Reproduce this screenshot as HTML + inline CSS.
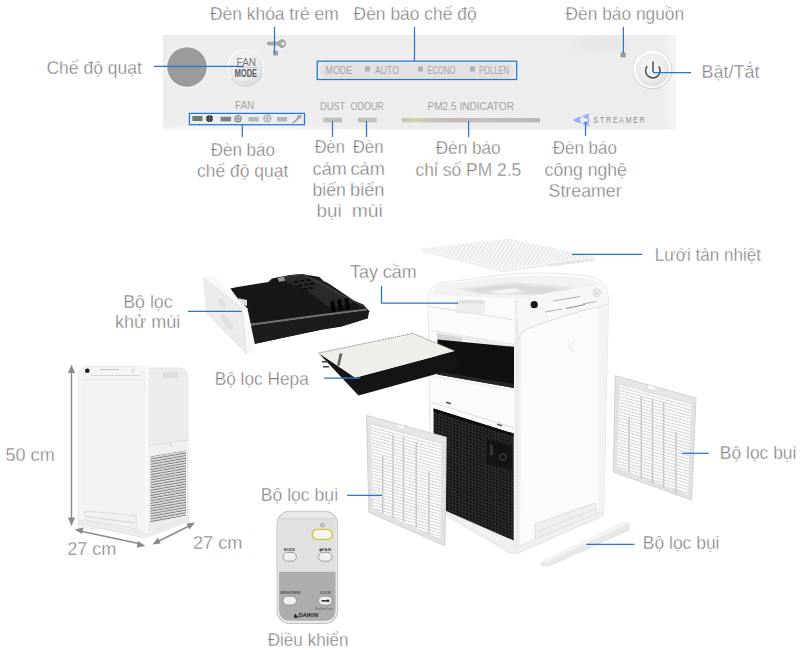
<!DOCTYPE html>
<html><head><meta charset="utf-8"><style>
html,body{margin:0;padding:0;background:#fff;}
body{width:800px;height:650px;overflow:hidden;}
svg{display:block;}
.lbl text{font-family:"Liberation Sans",sans-serif;font-size:18.5px;fill:#7d7d7d;stroke:#fff;stroke-width:0.35px;}
.ln{stroke:#2574d8;stroke-width:1.25;fill:none;}
.sm{font-family:"Liberation Sans",sans-serif;}
</style></head><body>
<svg width="800" height="650" viewBox="0 0 800 650">
<defs>
 <clipPath id="panelClip"><rect x="163" y="35" width="513" height="94.5"/></clipPath>
 <filter id="blur4" x="-50%" y="-50%" width="200%" height="200%"><feGaussianBlur stdDeviation="4"/></filter>
 <radialGradient id="hlG" cx="0.35" cy="1" r="0.75" gradientTransform="translate(0.35 1) scale(1 0.25) translate(-0.35 -1)">
  <stop offset="0" stop-color="#f8f8f8" stop-opacity="1"/><stop offset="1" stop-color="#f8f8f8" stop-opacity="0"/>
 </radialGradient>
 <radialGradient id="btnG" cx="0.45" cy="0.4" r="0.6">
  <stop offset="0" stop-color="#f7f7f7"/><stop offset="0.7" stop-color="#ececec"/><stop offset="1" stop-color="#dcdcdc"/>
 </radialGradient>
 <linearGradient id="pmG" x1="0" x2="1">
  <stop offset="0" stop-color="#c2c2b8"/><stop offset="0.08" stop-color="#d4d3b0"/><stop offset="0.25" stop-color="#c6bfb8"/>
  <stop offset="0.42" stop-color="#c8b8b6"/><stop offset="0.6" stop-color="#bfbfc4"/><stop offset="1" stop-color="#b8b8bc"/>
 </linearGradient>
 <pattern id="grillP" width="3.3" height="3.3" patternUnits="userSpaceOnUse" patternTransform="skewY(17)">
  <rect width="3.3" height="3.3" fill="#2e2e2e"/><rect x="0.9" y="0.9" width="2.1" height="2.1" fill="#0f0f0f"/>
 </pattern>
 <pattern id="meshP" width="3.3" height="3.3" patternUnits="userSpaceOnUse" patternTransform="rotate(32)">
  <rect width="3.3" height="3.3" fill="#f9f9f9"/><rect x="0" y="0" width="1.4" height="3.3" fill="#e6e6e6"/>
 </pattern>
 <pattern id="slatP" width="4" height="3.1" patternUnits="userSpaceOnUse" patternTransform="skewY(15.4)">
  <rect width="4" height="3.1" fill="#fdfdfd"/><rect y="2.1" width="4" height="1" fill="#d3d3d3"/>
 </pattern>
 <pattern id="sgrillP" width="3" height="2.6" patternUnits="userSpaceOnUse" patternTransform="skewY(-10)">
  <rect width="3" height="2.6" fill="#e6e6e6"/><rect y="1.5" width="3" height="1.1" fill="#7c7c7c"/>
 </pattern>
</defs>

<!-- ===== TOP CONTROL PANEL ===== -->
<g id="panel">
 <rect x="163" y="35" width="513" height="94.5" fill="#eeeded"/>
 <rect x="163" y="95" width="200" height="34.5" fill="url(#hlG)"/>
 <g clip-path="url(#panelClip)">
  <ellipse cx="598" cy="44" rx="26" ry="6" fill="#e2e2e2" opacity="0.7" filter="url(#blur4)"/>
  <rect x="668" y="35" width="10" height="95" fill="#f6f6f6" filter="url(#blur4)"/>
 </g>
 <!-- gray circle -->
 <circle cx="187" cy="67" r="20.8" fill="#f8f8f8"/>
 <circle cx="187" cy="67" r="19.8" fill="#9c999b"/>
 <!-- FAN MODE button -->
 <circle cx="245.8" cy="67.7" r="18.4" fill="#fcfcfc"/>
 <circle cx="245.8" cy="67.7" r="17.2" fill="url(#btnG)"/>
 <path d="M231.5,78.5 A17.3,17.3 0 0 0 262.5,73" stroke="#bccbdc" stroke-width="1.1" fill="none"/>
 <text class="sm" x="236.6" y="65.8" font-size="10.2" fill="#777" textLength="19.4" lengthAdjust="spacingAndGlyphs">FAN</text>
 <line x1="237" y1="67.4" x2="257" y2="67.4" stroke="#9a9a9a" stroke-width="0.6"/>
 <text class="sm" x="234.8" y="77" font-size="10.6" font-weight="bold" fill="#555" textLength="22.2" lengthAdjust="spacingAndGlyphs">MODE</text>
 <!-- child lock key -->
 <g stroke="#fafafa" stroke-width="1.6" fill="#fafafa"><circle cx="282" cy="43.6" r="4.3"/><rect x="266.8" y="41.6" width="13" height="4" rx="2"/></g>
 <circle cx="282" cy="43.6" r="4.3" fill="#a6a6a6"/>
 <rect x="266.8" y="41.6" width="13" height="4" rx="2" fill="#a6a6a6"/>
 <circle cx="283" cy="43.6" r="1.7" fill="#f0f0f0"/>
 <rect x="273.2" y="50.8" width="4.8" height="4.8" fill="#a2a2a6"/>
 <!-- mode pill -->
 <rect x="319.5" y="63" width="195" height="15" rx="7.5" fill="#e2e2e2"/>
 <g class="sm" font-size="10.6" fill="#a4a4a4">
  <text x="325.6" y="73.6" textLength="26.4" lengthAdjust="spacingAndGlyphs">MODE</text>
  <rect x="365" y="66.5" width="5" height="5" fill="#aab0b8"/>
  <text x="375" y="73.6" textLength="24" lengthAdjust="spacingAndGlyphs">AUTO</text>
  <rect x="418" y="66.5" width="5" height="5" fill="#aab0b8"/>
  <text x="427.5" y="73.6" textLength="28" lengthAdjust="spacingAndGlyphs">ECONO</text>
  <rect x="470" y="66.5" width="5" height="5" fill="#aab0b8"/>
  <text x="479" y="73.6" textLength="30" lengthAdjust="spacingAndGlyphs">POLLEN</text>
 </g>
 <!-- power indicator + button -->
 <rect x="620.5" y="52.5" width="5.2" height="4.8" fill="#9a9a9e"/>
 <circle cx="652.5" cy="69.6" r="19.8" fill="#d6d6d6"/>
 <circle cx="652.3" cy="69.3" r="19" fill="#fbfbfb"/>
 <circle cx="652.5" cy="69.8" r="16.5" fill="url(#btnG)"/>
 <path d="M647.2,66.2 A7.2,7.2 0 1 0 658.6,66.4" stroke="#4a4a4a" stroke-width="1.5" fill="none"/>
 <line x1="653" y1="61.5" x2="653" y2="72" stroke="#4a4a4a" stroke-width="1.5"/>
 <!-- FAN row -->
 <text class="sm" x="235" y="108.8" font-size="10.2" fill="#a2a2a2" textLength="19.2" lengthAdjust="spacingAndGlyphs">FAN</text>
 <rect x="192.3" y="116" width="10.2" height="5" fill="#6d7c6e"/>
 <g transform="translate(209.5 118.6)"><circle r="3.4" fill="#262626"/><path d="M-3,0 H3 M0,-3 V3" stroke="#cfcfcf" stroke-width="0.7"/><circle r="0.9" fill="#262626"/></g>
 <rect x="220.5" y="116.8" width="10.5" height="4.6" fill="#7d8389"/>
 <g transform="translate(238 118.8)"><circle r="3.3" fill="#dcdcdc" stroke="#6a6a6a" stroke-width="0.9"/><path d="M-2.6,0 H2.6 M0,-2.6 V2.6" stroke="#6a6a6a" stroke-width="0.7"/></g>
 <rect x="248.6" y="117" width="10" height="4.4" fill="#b2b5ba"/>
 <g transform="translate(267.3 118.3)"><circle r="3.6" fill="#e4e4e4" stroke="#9c9c9c" stroke-width="0.9"/><path d="M-2.8,0 H2.8 M0,-2.8 V2.8" stroke="#9c9c9c" stroke-width="0.7"/></g>
 <rect x="277" y="117" width="10" height="4.4" fill="#b2b5ba"/>
 <path d="M292,122.5 Q296,120 298,116.5 L296.5,116 L301.5,114.5 L301,119 L299.5,118 Q297.5,121.5 293,123.5 Z" fill="#a5a5a5"/>
 <!-- DUST / ODOUR -->
 <g class="sm" font-size="10.1" fill="#a2a2a2">
  <text x="320" y="109.6" textLength="25" lengthAdjust="spacingAndGlyphs">DUST</text>
  <text x="350.6" y="109.6" textLength="33.2" lengthAdjust="spacingAndGlyphs">ODOUR</text>
  <text x="427.4" y="110.2" textLength="86.6" lengthAdjust="spacingAndGlyphs">PM2.5  INDICATOR</text>
 </g>
 <rect x="323.5" y="117.7" width="18.5" height="4.6" fill="#bcbfb8"/>
 <rect x="358" y="117.7" width="18.6" height="4.6" fill="#bcbfb8"/>
 <rect x="402" y="118" width="138" height="4.4" fill="url(#pmG)"/>
 <!-- streamer -->
 <g fill="#a3abf4">
  <path d="M581.8,116.6 Q576,117.2 573,120 Q576,122.8 581.8,123.4 Q578.2,120 581.8,116.6 Z"/>
  <path d="M590,113.4 Q584.5,114.2 582.2,116.6 Q585.5,118.6 590,120.3 Q587,117 590,113.4 Z"/>
  <path d="M590,120.3 Q584.5,121 582.4,123.4 Q585.5,125.4 590,126.3 Q587.2,123.6 590,120.3 Z"/>
 </g>
 <text class="sm" x="593.6" y="123.3" font-size="9.4" fill="#8a8a8a" letter-spacing="2.6" textLength="53" lengthAdjust="spacingAndGlyphs">STREAMER</text>
</g>


<!-- ===== PRODUCTS ===== -->
<!-- heat sink mesh -->
<g id="mesh">
 <polygon points="421,248.8 508.8,238.6 595.5,256.8 502.5,268.8" fill="url(#meshP)"/>
 <polygon points="421,248.8 502.5,268.8 595.5,256.8 596,259.5 503,271.5 421.5,250.5" fill="#f4f4f4"/>
 <polyline points="422,251 503,271.5 596,259.5" fill="none" stroke="#e2e2e2" stroke-width="0.8"/>
 <polygon points="548,264 592,258.5 593,261 550,266.5" fill="#e6e6e6"/>
</g>

<!-- main unit -->
<g id="main">
 <path d="M428,302 C428,291 432,285 441,283 L508,274 C540,272 575,273 592,277 C603,280 608,288 608.5,299 L604,512 C603,516 600,518 596,519 L520,552 C515,554 510,554 506,551 L446,516 L430,440 Z" fill="#fbfbfb" stroke="#e2e2e2" stroke-width="0.8"/>
 <!-- top surface / opening -->
 <path d="M434,292 C436,287 439,285 444,284 L508,276.5 C540,275 575,276 590,279 C597,281 599,284 600,287 L520,299 L431,295 Z" fill="#f2f2f2"/>
 <polygon points="459,288.5 513,282 574,287.4 552,296 478,294" fill="#e4e4e4"/>
 <polygon points="468,289.5 513,284.5 560,288.5 546,294 482,292.5" fill="#dadada"/>
 <polygon points="490,291 515,288 525,292 500,294" fill="#f2f2f2"/>
 <!-- front face seams and handle -->
 <rect x="455.6" y="299.4" width="29.6" height="14.4" rx="3" fill="#efefef"/>
 <path d="M457,301 Q470,299.6 484,301 L484,304 Q470,302.5 457,304 Z" fill="#dfdfdf"/>
 <line x1="428.5" y1="306.2" x2="514" y2="320" stroke="#e0e0e0" stroke-width="1"/>
 <line x1="429" y1="330" x2="514" y2="344.5" stroke="#e3e3e3" stroke-width="1"/>
 <!-- inner top of opening -->
 <polygon points="436,331.5 514,345 514,348 436,336" fill="#ececec"/>
 <polygon points="437,333.5 462,337.5 462,343 437,340" fill="#d6d6d6"/>
 <!-- black opening -->
 <polygon points="437.5,339.5 514,346.8 514,388 437.5,374.5" fill="#101010"/>
 <polygon points="440,372 514,384 514,388 437.5,374.5" fill="#262626"/>
 <!-- lower front white part -->
 <line x1="430" y1="376" x2="514" y2="390" stroke="#e6e6e6" stroke-width="0.8"/>
 <line x1="431" y1="402" x2="514" y2="428" stroke="#dedede" stroke-width="1"/>
 <rect x="446" y="402" width="5" height="1.6" fill="#555" transform="rotate(17 448 403)"/>
 <rect x="497" y="424" width="5" height="1.6" fill="#555" transform="rotate(17 499 425)"/>
 <!-- black grill -->
 <polygon points="433.6,408.5 513.7,433.6 513.7,540.5 446,511 446,437 433.6,437" fill="url(#grillP)"/>
 <polygon points="433.6,408.5 513.7,433.6 513.7,436.5 433.6,411.5" fill="#0e0e0e"/>
 <polygon points="486,439 512,446 512,470 486,463" fill="#141414"/>
 <polygon points="490,444 493,445 493,456 490,455" fill="#333"/>
 <circle cx="503" cy="457" r="3.3" fill="none" stroke="#4a4a4a" stroke-width="1"/>
 <!-- side face -->
 <path d="M514.5,300 L514.5,546 L520,551 L521,300 Z" fill="#f0f0f0"/>
 <line x1="516.8" y1="300" x2="516.8" y2="548" stroke="#e2e2e2" stroke-width="0.8"/>
 <path d="M598,300 L607.5,300 L604,512 L598,515 Z" fill="#f3f3f3"/>
 <!-- side control strip -->
 <path d="M517,303 C520,299 525,297 530,296 C555,292 580,288 598,285 C604,287 607,293 607.5,302 L607.5,305 C580,311 550,320 527,329 C522,331 519,334 519,340 Z" fill="#f7f7f7"/>
 <path d="M519,340 C519,334 522,331 527,329 C550,320 580,311 607.5,304.5" fill="none" stroke="#e0e0e0" stroke-width="1.2"/>
 <circle cx="534.2" cy="304.7" r="3.6" fill="#1a1a1a"/>
 <circle cx="596.7" cy="292.7" r="3.8" fill="none" stroke="#c8c8c8" stroke-width="0.8"/><circle cx="596.7" cy="292.7" r="1.5" fill="none" stroke="#aaa" stroke-width="0.6"/>
 <g stroke="#9a9a9a" stroke-width="0.8">
  <line x1="553" y1="301" x2="580" y2="296.5"/>
  <line x1="545" y1="312" x2="556" y2="310"/>
  <line x1="557" y1="310" x2="562" y2="309"/>
  <line x1="583" y1="304" x2="596" y2="301.5"/>
 </g>
 <line x1="566" y1="308.5" x2="585" y2="304.5" stroke="#7f8aa0" stroke-width="1"/>
 <path d="M567,347 L573,341 L575,343 L571,347 L575,351 L573,353 Z" fill="#f2f2f2"/>
 <!-- side lower slot -->
 <polygon points="535,524 595,503 597,515 535,538.6" fill="#efefef" stroke="#d8d8d8" stroke-width="0.8"/>
 <line x1="536" y1="532" x2="596" y2="509" stroke="#dadada" stroke-width="0.8"/>
 <!-- base plate -->
 <polygon points="446,511.5 514.3,542 515.5,547.6 602,511.5 603.5,515 516.6,553.9 509.8,552 445.6,514" fill="#f0f0f0" stroke="#dcdcdc" stroke-width="0.6"/>
</g>

<!-- prefilter strip -->
<polygon points="542.5,561.2 623.7,522.5 629.5,524.5 629,530 548.7,566.2 541.2,565.5" fill="#e9e9e9" stroke="#d6d6d6" stroke-width="0.6"/>
<polygon points="542.5,561.2 623.7,522.5 627,524 544,563" fill="#f7f7f7"/>

<!-- carbon tray -->
<g id="tray">
 <polygon points="230.4,288.5 236,287.3 268.4,281.9 272,278.5 279,277.1 284,276.2 290,275 301.7,273.9 319.5,277.1 323.2,280.8 329,283.7 353.9,300.6 363.4,304.5 369.2,311 367.8,318.2 340.5,326.8 323.2,328.2 317.5,330.4 307.4,332.5 249.4,345 247,311" fill="#171717"/>
 <polygon points="280,278 302,274.5 322,281 352,301.5 351,304 330,308 305,289 283,281" fill="#2a2a2a"/>
 <polyline points="284.6,276.6 303,274.3 362.8,306 369.7,311.7" fill="none" stroke="#474747" stroke-width="1"/>
 <g fill="#0a0a0a">
  <polygon points="293,281.5 297,280.8 299.5,282.5 295.5,283.2"/>
  <polygon points="299,280.4 303,279.7 305.5,281.4 301.5,282.1"/>
  <polygon points="305,279.6 309,279 311.5,280.6 307.5,281.3"/>
  <polygon points="297,285 301,284.3 303.5,286 299.5,286.7"/>
  <polygon points="303,284 307,283.3 309.5,285 305.5,285.7"/>
  <polygon points="309,283.2 313,282.5 315.5,284.2 311.5,284.9"/>
  <polygon points="302,288.5 306,287.8 308.5,289.5 304.5,290.2"/>
  <polygon points="308,287.6 312,286.9 314.5,288.6 310.5,289.3"/>
 </g>
 <g fill="#050505">
  <polygon points="330,302 334,300.5 336,312 332,313"/>
  <polygon points="337,300 341,298.8 343,310 339,311"/>
  <polygon points="344,298.5 348,297.5 350,308.5 346,309.5"/>
 </g>
 <polygon points="249,323.8 318,314.5 367,308.5 367,310.5 318,316.8 249,326.3" fill="#707070"/>
 <polygon points="249,326.3 318,316.8 367.8,310.5 367.8,318.2 340.5,326.8 317.5,330.4 249.4,345" fill="#1c1c1c"/>
 <polygon points="238.5,298.3 247,300 247,306 239,304" fill="#dcdcdc"/>
 <polygon points="277.5,278 284,276.8 285,280.8 279,281.8" fill="#9a9a9a"/>
 <polygon points="203,278 214,275 247.5,308.5 256,350 250,355 246.5,354.5 205.8,313" fill="#f9f9f9"/>
 <polygon points="203,277.5 242,308 246.5,354.5 205.8,313" fill="#ececec"/>
 <polyline points="203,277.5 242,308 246.5,354.5" fill="none" stroke="#dddddd" stroke-width="0.8"/>
 <ellipse cx="222" cy="303" rx="2.3" ry="5" transform="rotate(-38 222 303)" fill="#dedede"/>
 <ellipse cx="227" cy="322" rx="3.2" ry="10" transform="rotate(-38 227 322)" fill="#e0e0e0"/>
</g>

<!-- hepa filter -->
<g id="hepa">
 <polygon points="318.5,353 356,377.5 358.5,395.5" fill="#161616"/>
 <polygon points="355,377.8 455,351 458,368 358.5,395.5" fill="#141414"/>
 <polygon points="318.5,353 413,333.4 455,351 355,377.8" fill="#f0eeea"/>
 <polyline points="318.5,353 413,333.4 455,351" fill="none" stroke="#8a8a8a" stroke-width="1" stroke-dasharray="1.2 0.8"/>
 <polygon points="339.5,353.5 342.5,353.5 339.5,366 337,365.5" fill="#666"/>
 <g fill="#444"><rect x="322" y="361" width="6" height="1.5"/><rect x="323" y="366" width="6" height="1.5"/><rect x="343" y="377" width="4" height="1.5"/></g>
</g>

<!-- left filter panel -->
<g id="lfilter">
 <polygon points="366.5,415.4 446.2,437.3 445,545.8 368.9,512.4" fill="#e2e2e2"/>
 <polygon points="371,424 441.5,443.5 440.5,539 373,508.5" fill="url(#slatP)"/>
 <g stroke="#c9c9c9" stroke-width="1.5">
  <line x1="382.7" y1="456" x2="382.7" y2="513.5"/>
  <line x1="393" y1="435" x2="393" y2="518"/>
  <line x1="403.5" y1="437" x2="403.5" y2="521.6"/>
  <line x1="416.2" y1="442" x2="416.2" y2="527.4"/>
  <line x1="428.9" y1="472" x2="428.9" y2="534"/>
 </g>
 <polygon points="366.5,415.4 446.2,437.3 446,443.5 410,434 405,432 366.6,421.5" fill="#e6e6e6"/>
 <polygon points="398,423.5 404,425.2 404,428.5 398,426.8" fill="#fff"/>
 <polyline points="366.5,415.4 446.2,437.3 445,545.8 368.9,512.4 366.5,415.4" fill="none" stroke="#d2d2d2" stroke-width="1"/>
</g>

<!-- right filter panel -->
<g id="rfilter">
 <polygon points="615.2,375.7 696,398 691.5,500 613.4,472" fill="#e2e2e2"/>
 <polygon points="619.5,385 691,404.5 688,494 617,467.5" fill="url(#slatP)"/>
 <g stroke="#c9c9c9" stroke-width="1.5">
  <line x1="629" y1="417.5" x2="629" y2="472"/>
  <line x1="641.3" y1="396" x2="641.3" y2="479"/>
  <line x1="652.5" y1="398.5" x2="652.5" y2="483"/>
  <line x1="663.6" y1="402" x2="663.6" y2="487.8"/>
  <line x1="675.9" y1="432" x2="675.9" y2="494.5"/>
 </g>
 <polygon points="615.2,375.7 696,398 695.8,404 615.3,382" fill="#e6e6e6"/>
 <polygon points="648,384.7 655,386.6 655,390 648,388.1" fill="#fff"/>
 <polyline points="615.2,375.7 696,398 691.5,500 613.4,472 615.2,375.7" fill="none" stroke="#d2d2d2" stroke-width="1"/>
</g>

<!-- small unit -->
<g id="small">
 <path d="M78.5,528 L78.5,376 Q78.5,366.5 88,366.5 L140,366.5 Q148,366.5 148,376 L148,531 Z" fill="#f5f5f5" stroke="#e3e3e3" stroke-width="0.7"/>
 <path d="M148,531 L148,368 L180,368 Q188,369 188,378 L188,521 Z" fill="#ececec" stroke="#e0e0e0" stroke-width="0.7"/>
 <path d="M81,388 Q81,380 89,380 L137,380 Q143,380 143.5,386 L145.5,526 L81,520 Z" fill="#f3f3f3"/>
 <path d="M80,381 Q80,379.5 89,379.5 L138,379.5 Q144,379.5 145,384 L146,390 L148,391 L148,379 Q148,372 141,372" fill="none" stroke="#e0e0e0" stroke-width="0.8"/>
 <rect x="146" y="368" width="2.5" height="162" fill="#fafafa"/>
 <circle cx="87.3" cy="370.8" r="2.3" fill="#1e1e1e"/>
 <line x1="100" y1="369.5" x2="119" y2="369.5" stroke="#b0b0b0" stroke-width="0.7"/>
 <line x1="91" y1="375.5" x2="140" y2="375.5" stroke="#bdbdbd" stroke-width="0.6"/>
 <circle cx="133" cy="370.5" r="1.5" fill="none" stroke="#bbb" stroke-width="0.5"/>
 <path d="M163,372.5 L177,372 Q178.5,372 178.5,374 L178.5,377.5 L163,378.4 Z" fill="#dcdcdc"/>
 <line x1="148" y1="445.6" x2="188" y2="440" stroke="#d4d4d4" stroke-width="0.8"/>
 <path d="M148,446 L188,440.5 L188,450 L150,456.5 Z" fill="#f0f0f0"/>
 <circle cx="170.6" cy="445" r="1.6" fill="#dedede"/>
 <polygon points="150.5,456.6 186,450.4 186,515.5 150.5,523" fill="url(#sgrillP)"/>
 <g stroke="#c8c8c8" stroke-width="0.8">
  <line x1="163" y1="454.5" x2="163" y2="521"/><line x1="175" y1="452.5" x2="175" y2="518"/>
 </g>
 <polygon points="84.5,511 136,515.5 136.5,529 85.5,520" fill="#f1f1f1" stroke="#d6d6d6" stroke-width="0.7"/>
 <line x1="86" y1="516.5" x2="135" y2="523" stroke="#cfcfcf" stroke-width="0.9"/>
 <polygon points="78,520 147,533.5 188,517.5 189.5,521 145,538 78.5,524" fill="#ededed" stroke="#dcdcdc" stroke-width="0.6"/>
</g>

<!-- dimension arrows -->
<g stroke="#8a8a8a" stroke-width="1.4" fill="#8a8a8a">
 <line x1="71.5" y1="370" x2="71.5" y2="520"/>
 <polygon points="71.5,364.5 68,373 75,373" stroke="none"/>
 <polygon points="71.5,526 68,517.5 75,517.5" stroke="none"/>
 <line x1="80" y1="531" x2="141" y2="544"/>
 <polygon points="74.5,529.5 83.5,527.5 82,534" stroke="none"/>
 <polygon points="145.5,546 136.5,547.5 138,541" stroke="none"/>
 <line x1="157" y1="542" x2="190" y2="525.5"/>
 <polygon points="152.5,544.5 158,537.5 160.5,543.5" stroke="none"/>
 <polygon points="195,522.5 186.5,523.5 189.5,529.5" stroke="none"/>
</g>

<!-- remote -->
<g id="remote">
 <rect x="276.6" y="510.8" width="61.4" height="113.2" rx="13" fill="#c4c4c4"/>
 <rect x="277.6" y="511.8" width="59.4" height="111.2" rx="12.2" fill="#e9e9e9"/>
 <path d="M279,571.5 L335.6,571.5 L335.6,609 Q335.6,620.8 324,620.8 L290.6,620.8 Q279,620.8 279,609 Z" fill="#adadad"/>
 <path d="M279,518.5 L335.6,518.5 L335.6,571.5 L279,571.5 Z" fill="#e0e0e0"/>
 <line x1="279" y1="518.6" x2="335.6" y2="518.6" stroke="#cfcfcf" stroke-width="0.8"/>
 <rect x="312.2" y="529.4" width="20.2" height="10" rx="5" fill="#f4f4f4" stroke="#d4c22a" stroke-width="1.3"/>
 <circle cx="322.4" cy="525.2" r="1.7" fill="none" stroke="#666" stroke-width="0.6"/>
 <g fill="#f0f0f0" stroke="#8a8a8a" stroke-width="0.8">
  <rect x="283" y="552.4" width="13.4" height="8.8" rx="4.4"/>
  <rect x="318.5" y="552.4" width="13.5" height="8.8" rx="4.4"/>
  <rect x="283" y="596.2" width="13.4" height="8.8" rx="4.4"/>
  <rect x="318.5" y="596.2" width="13.5" height="8.8" rx="4.4"/>
 </g>
 <g class="sm" fill="#4a4a4a" font-size="4.4" font-weight="bold">
  <text x="283.8" y="550.5" textLength="11.2" lengthAdjust="spacingAndGlyphs">MODE</text>
  <text x="318.5" y="550.5" textLength="12.5" lengthAdjust="spacingAndGlyphs">◆FAN</text>
  <text x="280.6" y="594.4" textLength="20" lengthAdjust="spacingAndGlyphs">BRIGHTNESS</text>
  <text x="320" y="594.4" textLength="11" lengthAdjust="spacingAndGlyphs">LOCK</text>
  <text x="315.5" y="609.8" font-size="3" font-weight="normal" textLength="18" lengthAdjust="spacingAndGlyphs">Push for 2 sec.</text>
 </g>
 <rect x="321.5" y="600" width="7" height="1.6" fill="#333"/>
 <circle cx="328" cy="600.8" r="1.4" fill="#333"/>
 <text class="sm" x="294" y="616.5" font-size="5.2" font-weight="bold" font-style="italic" fill="#222" textLength="24" lengthAdjust="spacingAndGlyphs">◣DAIKIN</text>
</g>

<!-- ===== CONNECTOR LINES ===== -->
<g class="ln">
 <line x1="154" y1="66.3" x2="244" y2="66.3"/>
 <line x1="274.5" y1="27" x2="274.5" y2="53.6"/>
 <line x1="414.5" y1="27" x2="414.5" y2="61.2"/>
 <line x1="623.4" y1="27" x2="623.4" y2="53"/>
 <line x1="653" y1="72.5" x2="691" y2="72.5"/>
 <rect x="189.4" y="113.4" width="115.1" height="11.3"/>
 <line x1="242.3" y1="124.7" x2="242.3" y2="137"/>
 <rect x="317.2" y="61.2" width="199.5" height="18.3"/>
 <line x1="332.5" y1="121" x2="332.5" y2="137"/>
 <line x1="366.5" y1="121" x2="366.5" y2="137"/>
 <line x1="468.6" y1="121" x2="468.6" y2="137"/>
 <line x1="585.5" y1="122" x2="585.5" y2="136"/>
 <line x1="572" y1="254.4" x2="642.3" y2="254.4"/>
 <polyline points="381.5,286 381.5,303.1 457.9,303.1"/>
 <line x1="188" y1="311.4" x2="241.5" y2="311.4"/>
 <line x1="324" y1="378" x2="360" y2="378"/>
 <line x1="682" y1="453.3" x2="708.8" y2="453.3"/>
 <line x1="347" y1="495.4" x2="382" y2="495.4"/>
 <line x1="586.25" y1="544.25" x2="634.5" y2="544.25"/>
</g>

<g class="lbl">
<text x="210.00" y="20.00" textLength="128.72" lengthAdjust="spacingAndGlyphs">Đèn khóa trẻ em</text>
<text x="353.60" y="20.00" textLength="123.00" lengthAdjust="spacingAndGlyphs">Đèn báo chế độ</text>
<text x="565.60" y="20.00" textLength="118.50" lengthAdjust="spacingAndGlyphs">Đèn báo nguồn</text>
<text x="46.45" y="73.60" textLength="95.37" lengthAdjust="spacingAndGlyphs">Chế độ quạt</text>
<text x="701.53" y="77.70" textLength="57.92" lengthAdjust="spacingAndGlyphs">Bật/Tắt</text>
<text x="210.80" y="156.00" textLength="64.06" lengthAdjust="spacingAndGlyphs">Đèn báo</text>
<text x="197.00" y="177.30" textLength="91.32" lengthAdjust="spacingAndGlyphs">chế độ quạt</text>
<text x="314.80" y="153.40" textLength="30.04" lengthAdjust="spacingAndGlyphs">Đèn</text>
<text x="312.60" y="174.50" textLength="34.13" lengthAdjust="spacingAndGlyphs">cảm</text>
<text x="312.44" y="196.00" textLength="33.50" lengthAdjust="spacingAndGlyphs">biến</text>
<text x="316.48" y="216.60" textLength="25.13" lengthAdjust="spacingAndGlyphs">bụi</text>
<text x="352.70" y="153.40" textLength="30.87" lengthAdjust="spacingAndGlyphs">Đèn</text>
<text x="350.50" y="174.50" textLength="34.44" lengthAdjust="spacingAndGlyphs">cảm</text>
<text x="350.02" y="196.00" textLength="34.45" lengthAdjust="spacingAndGlyphs">biến</text>
<text x="351.65" y="216.60" textLength="31.20" lengthAdjust="spacingAndGlyphs">mùi</text>
<text x="435.70" y="154.40" textLength="64.96" lengthAdjust="spacingAndGlyphs">Đèn báo</text>
<text x="415.60" y="175.50" textLength="105.67" lengthAdjust="spacingAndGlyphs">chỉ số PM 2.5</text>
<text x="552.70" y="154.40" textLength="64.26" lengthAdjust="spacingAndGlyphs">Đèn báo</text>
<text x="544.60" y="175.80" textLength="82.30" lengthAdjust="spacingAndGlyphs">công nghệ</text>
<text x="548.54" y="197.30" textLength="73.14" lengthAdjust="spacingAndGlyphs">Streamer</text>
<text x="654.83" y="260.60" textLength="106.20" lengthAdjust="spacingAndGlyphs">Lưới tản nhiệt</text>
<text x="350.00" y="278.20" textLength="66.66" lengthAdjust="spacingAndGlyphs">Tay cầm</text>
<text x="123.24" y="308.00" textLength="49.36" lengthAdjust="spacingAndGlyphs">Bộ lọc</text>
<text x="115.02" y="328.00" textLength="65.33" lengthAdjust="spacingAndGlyphs">khử mùi</text>
<text x="214.67" y="384.50" textLength="94.14" lengthAdjust="spacingAndGlyphs">Bộ lọc Hepa</text>
<text x="5.52" y="460.90" textLength="49.16" lengthAdjust="spacingAndGlyphs">50 cm</text>
<text x="719.86" y="458.70" textLength="76.58" lengthAdjust="spacingAndGlyphs">Bộ lọc bụi</text>
<text x="260.75" y="500.80" textLength="77.29" lengthAdjust="spacingAndGlyphs">Bộ lọc bụi</text>
<text x="67.22" y="555.00" textLength="49.16" lengthAdjust="spacingAndGlyphs">27 cm</text>
<text x="193.02" y="548.60" textLength="49.36" lengthAdjust="spacingAndGlyphs">27 cm</text>
<text x="642.81" y="548.75" textLength="76.68" lengthAdjust="spacingAndGlyphs">Bộ lọc bụi</text>
<text x="267.70" y="646.00" textLength="80.89" lengthAdjust="spacingAndGlyphs">Điều khiển</text>
</g>
</svg>
</body></html>
